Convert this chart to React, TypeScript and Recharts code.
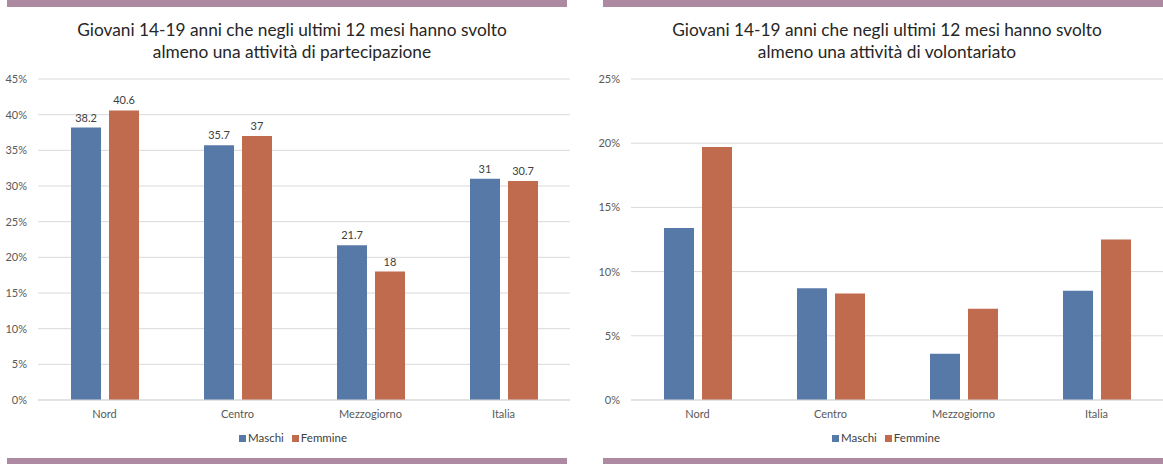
import React from "react";
import { BarChart, Bar, XAxis, YAxis, CartesianGrid, LabelList } from "recharts";

const categories = ["Nord", "Centro", "Mezzogiorno", "Italia"];
const partecipazioneMaschi = [38.2, 35.7, 21.7, 31];
const partecipazioneFemmine = [40.6, 37, 18, 30.7];
const volontariatoMaschi = [13.4, 8.7, 3.6, 8.5];
const volontariatoFemmine = [19.7, 8.3, 7.1, 12.5];
const ticksLeft = [0, 5, 10, 15, 20, 25, 30, 35, 40, 45];
const ticksRight = [0, 5, 10, 15, 20, 25];
const seriesNames = ["Maschi", "Femmine"];

const titleLeft = ["Giovani 14-19 anni che negli ultimi 12 mesi hanno svolto", "almeno una attività di partecipazione"];
const titleRight = ["Giovani 14-19 anni che negli ultimi 12 mesi hanno svolto", "almeno una attività di volontariato"];

const BLUE = "#5779A8";
const ORANGE = "#C06A4E";
const BAND = "#AE8AA2";
const FONT = "Lato, 'Open Sans', sans-serif";

const leftData = categories.map((c, i) => ({ cat: c, Maschi: partecipazioneMaschi[i], Femmine: partecipazioneFemmine[i] }));
const rightData = categories.map((c, i) => ({ cat: c, Maschi: volontariatoMaschi[i], Femmine: volontariatoFemmine[i] }));

const tickStyle = { fontSize: 11, fill: "#595959", fontFamily: FONT };

function Title({ lines, center }: { lines: string[]; center: number }) {
  return (
    <div
      style={{
        position: "absolute",
        left: center - 300,
        width: 600,
        top: 19,
        textAlign: "center",
        fontFamily: FONT,
        fontSize: 17.3,
        lineHeight: "22px",
        color: "#262626",
      }}
    >
      {lines.map((l) => (
        <div key={l}>{l}</div>
      ))}
    </div>
  );
}

function LegendBox({ center }: { center: number }) {
  const colors = [BLUE, ORANGE];
  return (
    <div
      style={{
        position: "absolute",
        left: center - 150,
        width: 300,
        top: 431,
        display: "flex",
        justifyContent: "center",
        alignItems: "center",
        fontFamily: FONT,
        fontSize: 11.5,
        color: "#404040",
        lineHeight: "14px",
      }}
    >
      {seriesNames.map((n, i) => (
        <span key={n} style={{ display: "inline-flex", alignItems: "center", marginRight: i === 0 ? 8 : 0 }}>
          <span style={{ display: "inline-block", width: 7, height: 7, background: colors[i], marginRight: 2 }} />
          {n}
        </span>
      ))}
    </div>
  );
}

function Chart({
  data,
  left,
  width,
  yAxisWidth,
  max,
  ticks,
  labels,
}: {
  data: any[];
  left: number;
  width: number;
  yAxisWidth: number;
  max: number;
  ticks: number[];
  labels: boolean;
}) {
  return (
    <div style={{ position: "absolute", left, top: 0 }}>
      <BarChart
        width={width}
        height={464}
        data={data}
        margin={{ top: 79, right: width - yAxisWidth - 532, left: 0, bottom: 34 }}
        barSize={30}
        barGap={8}
      >
        <CartesianGrid vertical={false} stroke="#d9d9d9" />
        <XAxis
          dataKey="cat"
          height={30}
          tickLine={false}
          axisLine={{ stroke: "#d9d9d9" }}
          tick={tickStyle}
          tickMargin={4}
          interval={0}
        />
        <YAxis
          width={yAxisWidth}
          domain={[0, max]}
          ticks={ticks}
          tickFormatter={(v: number) => `${v}%`}
          tickLine={false}
          axisLine={false}
          tick={tickStyle}
          tickMargin={5}
          interval={0}
        />
        <Bar dataKey="Maschi" fill={BLUE} isAnimationActive={false}>
          {labels && <LabelList dataKey="Maschi" position="top" offset={6} style={{ fontSize: 11, fill: "#404040", fontFamily: FONT }} />}
        </Bar>
        <Bar dataKey="Femmine" fill={ORANGE} isAnimationActive={false}>
          {labels && <LabelList dataKey="Femmine" position="top" offset={6} style={{ fontSize: 11, fill: "#404040", fontFamily: FONT }} />}
        </Bar>
      </BarChart>
    </div>
  );
}

export default function App() {
  return (
    <div style={{ position: "absolute", left: 0, top: 0, width: 1163, height: 464, background: "#fff", overflow: "hidden" }}>
      <div style={{ position: "absolute", left: 7, top: 0, width: 560, height: 7, background: BAND }} />
      <div style={{ position: "absolute", left: 603, top: 0, width: 560, height: 7, background: BAND }} />
      <div style={{ position: "absolute", left: 7, top: 458, width: 560, height: 6, background: BAND }} />
      <div style={{ position: "absolute", left: 603, top: 458, width: 560, height: 6, background: BAND }} />
      <Title lines={titleLeft} center={292} />
      <Title lines={titleRight} center={887} />
      <Chart data={leftData} left={0} width={575} yAxisWidth={38} max={45} ticks={ticksLeft} labels={true} />
      <Chart data={rightData} left={580} width={583} yAxisWidth={51} max={25} ticks={ticksRight} labels={false} />
      <LegendBox center={293} />
      <LegendBox center={886} />
    </div>
  );
}
